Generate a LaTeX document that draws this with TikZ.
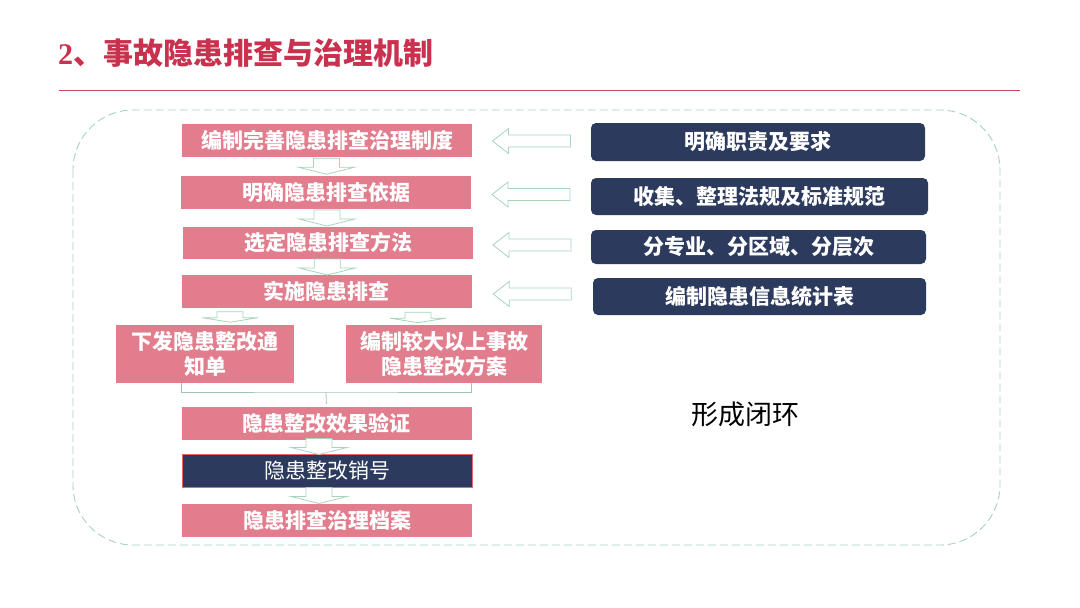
\documentclass[tikz,border=0pt]{standalone}
\usepackage{fontspec}
\setmainfont{Noto Sans CJK SC}
\newfontfamily\numfont{Liberation Serif}
\usetikzlibrary{calc}
\definecolor{boxpink}{HTML}{E17D8C}
\definecolor{boxnavy}{HTML}{2C3A5E}
\definecolor{arrowgreen}{HTML}{A8D5BA}
\definecolor{framegreen}{HTML}{A6D4BC}
\definecolor{titlered}{HTML}{C8324E}
\definecolor{rulered}{HTML}{C94A5E}

\begin{document}
\begin{tikzpicture}[x=1pt, y=-1pt,
	pinkbox/.style={shape=rectangle, fill=boxpink, text=white, inner sep=0pt, minimum width=290pt, minimum height=33pt, align=center, font=\fontsize{21}{25}\selectfont\bfseries},
	navybox/.style={shape=rectangle, rounded corners=5pt, fill=boxnavy, text=white, inner sep=0pt, minimum height=37pt, font=\fontsize{21}{25}\selectfont\bfseries},
	joinline/.style={draw=framegreen!85!gray, line width=0.8pt},
	dnarrow/.pic={\draw[arrowgreen, fill=white, line width=0.8pt] (-13,-8) -- (13,-8) -- (13,1) -- (28,1) -- (0,8) -- (-28,1) -- (-13,1) -- cycle;},
	lfarrow/.pic={\draw[arrowgreen, fill=white, line width=0.8pt] (39,-6) -- (-23,-6) -- (-23,-12.5) -- (-39,0) -- (-23,12.5) -- (-23,6) -- (39,6) -- cycle;}]
	\useasboundingbox (0,0) rectangle (1080,608);
	% Title and frame:
	\node[anchor=west, text=titlered, inner sep=0pt, font=\fontsize{30}{36}\selectfont\bfseries] (title) at (58, 53) {{\numfont 2}、事故隐患排查与治理机制};
	\draw[rulered, line width=1.8pt] (59, 90.5) -- (1020, 90.5);
	\draw[framegreen, dash pattern=on 8pt off 4pt, line width=0.9pt, rounded corners=60pt] (73, 110) rectangle (1000, 545);
	% Left column:
	\node[pinkbox] (b1) at (327, 140) {编制完善隐患排查治理制度};
	\node[pinkbox] (b2) at (326, 192.5) {明确隐患排查依据};
	\node[pinkbox, minimum height=32pt] (b3) at (328, 243) {选定隐患排查方法};
	\node[pinkbox] (b4) at (326.5, 291.5) {实施隐患排查};
	\node[pinkbox, minimum width=178pt, minimum height=58pt] (b5) at (205, 354) {下发隐患整改通\\知单};
	\node[pinkbox, minimum width=196pt, minimum height=58pt] (b6) at (444, 354) {编制较大以上事故\\隐患整改方案};
	\node[pinkbox] (b7) at (326.5, 423.5) {隐患整改效果验证};
	\node[pinkbox, fill=boxnavy, draw=boxpink!80!red, line width=0.8pt, font=\fontsize{21}{25}\selectfont] (b8) at (327, 470.5) {隐患整改销号};
	\node[pinkbox] (b9) at (327, 520.5) {隐患排查治理档案};
	% Right column:
	\node[navybox, minimum width=334pt, minimum height=38pt] (r1) at (758, 142) {明确职责及要求};
	\node[navybox, minimum width=337pt] (r2) at (759.5, 196.5) {收集、整理法规及标准规范};
	\node[navybox, minimum width=335pt, minimum height=34pt] (r3) at (758.5, 247) {分专业、分区域、分层次};
	\node[navybox, minimum width=333pt] (r4) at (759.5, 296.5) {编制隐患信息统计表};
	\node[font=\fontsize{27}{32}\selectfont] (loop) at (745, 414) {形成闭环};
	% Arrows and wires:
	\pic at ($(b1.south)!.5!(b2.north)$) {dnarrow};
	\pic at ($(b2.south)!.5!(b3.north)$) {dnarrow};
	\pic at ($(b3.south)!.5!(b4.north)$) {dnarrow};
	\pic[yscale=.65] at (230, 317) {dnarrow};
	\pic[yscale=.65] at (418, 317.5) {dnarrow};
	\pic at (319, 446.5) {dnarrow};
	\pic at (319, 495.5) {dnarrow};
	\pic at ($(b1.east)!.5!(r1.west)$) {lfarrow};
	\pic at ($(b2.east)!.5!(r2.west)$) {lfarrow};
	\pic at ($(b3.east)!.5!(r3.west)$) {lfarrow};
	\pic at ($(b4.east)!.5!(r4.west)$) {lfarrow};
	\coordinate (jn) at (326, 392);
	\draw[joinline] (b5.south -| b7.west) |- (jn) -| (b6.south -| b7.east);
	\draw[joinline, shorten >=3pt] (jn) -- (b7.north);
\end{tikzpicture}
\end{document}
